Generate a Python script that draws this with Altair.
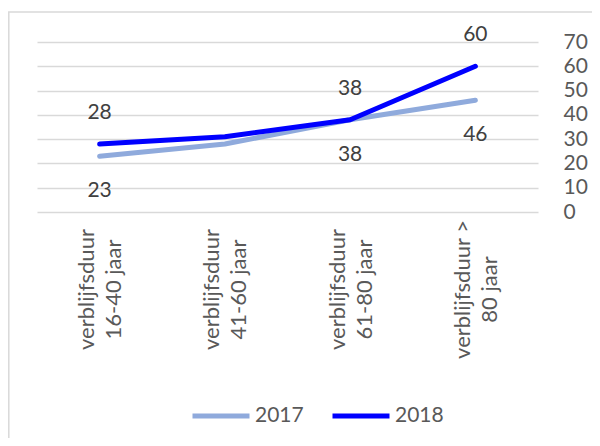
import altair as alt
import pandas as pd

categories = ["verblijfsduur 16-40 jaar", "verblijfsduur 41-60 jaar",
              "verblijfsduur 61-80 jaar", "verblijfsduur > 80 jaar"]
years = ["2017", "2018"]
values_2017 = [23, 28, 38, 46]
values_2018 = [28, 31, 38, 60]
show_label = [True, False, True, True]
y_ticks = [0, 10, 20, 30, 40, 50, 60, 70]

rows = []
for y, vals in zip(years, [values_2017, values_2018]):
    for c, v, s in zip(categories, vals, show_label):
        rows.append({"cat": c, "year": y, "value": v, "show": s})
df = pd.DataFrame(rows)

FONT = "Lato"
x_enc = alt.X(
    "cat:N", sort=categories,
    scale=alt.Scale(type="point", padding=0.5),
    axis=alt.Axis(
        title=None, labelAngle=270, labelAlign="center", labelBaseline="middle",
        labelPadding=77, labelOffset=-13, ticks=False, domain=False, labelOverlap=False,
        labelLimit=400, labelFontSize=22, labelFont=FONT, labelColor="#595959",
        labelLineHeight=27,
        labelExpr="[join(slice(split(datum.label,' '),0,-2),' '), join(slice(split(datum.label,' '),-2),' ')]",
    ),
)
y_enc = alt.Y(
    "value:Q", scale=alt.Scale(domain=[0, 70]),
    axis=alt.Axis(
        title=None, orient="right", values=y_ticks, tickCount=8, domain=False, ticks=False,
        labelPadding=25, labelAlign="left", labelFontSize=21, labelFont=FONT,
        labelColor="#595959", gridColor="#d9d9d9", gridWidth=1.5,
        labelOverlap=False, labelFlush=False,
    ),
)
color_enc = alt.Color(
    "year:N", scale=alt.Scale(domain=years, range=["#8FAADC", "#0000FF"]),
    legend=alt.Legend(
        title=None, orient="none", legendX=153, legendY=343, direction="horizontal",
        symbolType="stroke", symbolSize=3249, symbolStrokeWidth=5,
        labelFontSize=21, labelFont=FONT, labelColor="#595959",
        columnPadding=18, labelOffset=3, padding=0,
    ),
)

base = alt.Chart(df)

border = alt.Chart(pd.DataFrame({"k": [0]})).mark_rect(
    fill=None, stroke="#d9d9d9", strokeWidth=1.5
).encode(x=alt.value(-28.2), y=alt.value(-30), x2=alt.value(700), y2=alt.value(600))

lines = base.mark_line(strokeWidth=5, strokeCap="round", strokeJoin="round").encode(
    x=x_enc, y=y_enc, color=color_enc
)

lab18 = base.transform_filter("datum.show && datum.year == '2018'").mark_text(
    font=FONT, fontSize=21, color="#404040", dy=-31, baseline="middle"
).encode(x=x_enc, y=y_enc, text="value:Q")

lab17 = base.transform_filter("datum.show && datum.year == '2017'").mark_text(
    font=FONT, fontSize=21, color="#404040", dy=35, baseline="middle"
).encode(x=x_enc, y=y_enc, text="value:Q")

chart = alt.layer(border, lines, lab18, lab17).properties(
    width=501, height=170,
    background="white",
    autosize=alt.AutoSizeParams(type="none"),
    padding={"left": 29, "top": 34, "right": 54, "bottom": 226},
).configure_view(stroke=None)

chart.save("out.html", embed_options={"renderer": "svg", "actions": False})
